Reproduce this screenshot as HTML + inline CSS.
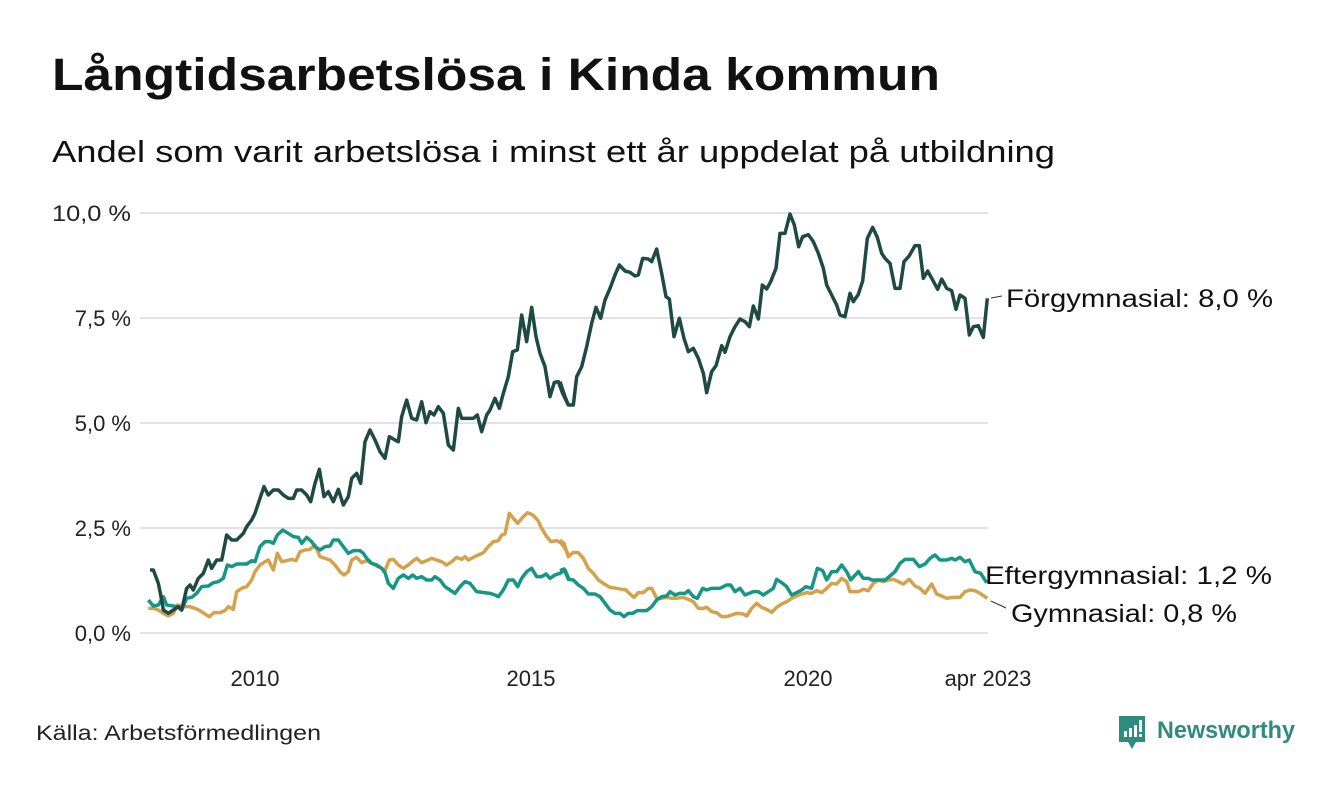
<!DOCTYPE html>
<html><head><meta charset="utf-8"><style>
body{margin:0;background:#fff;width:1340px;height:780px;overflow:hidden;font-family:"Liberation Sans",sans-serif}
</style></head><body>
<svg width="1340" height="780" viewBox="0 0 1340 780" xmlns="http://www.w3.org/2000/svg" font-family="Liberation Sans, DejaVu Sans, sans-serif">
<text x="52" y="90" font-size="45" font-weight="bold" fill="#111" textLength="888" lengthAdjust="spacingAndGlyphs">Långtidsarbetslösa i Kinda kommun</text>
<text x="52" y="162" font-size="31" fill="#111" textLength="1003" lengthAdjust="spacingAndGlyphs">Andel som varit arbetslösa i minst ett år uppdelat på utbildning</text>
<g stroke="#e2e1e6" stroke-width="2">
<line x1="140" x2="988" y1="213" y2="213"/><line x1="140" x2="988" y1="318" y2="318"/>
<line x1="140" x2="988" y1="423" y2="423"/><line x1="140" x2="988" y1="528" y2="528"/>
<line x1="140" x2="988" y1="633" y2="633"/></g>
<g font-size="22" fill="#222" text-anchor="end">
<text x="131" y="221" textLength="79" lengthAdjust="spacingAndGlyphs">10,0 %</text><text x="131" y="326">7,5 %</text><text x="131" y="431">5,0 %</text><text x="131" y="536">2,5 %</text><text x="131" y="641">0,0 %</text></g>
<g font-size="22" fill="#222" text-anchor="middle">
<text x="255" y="686">2010</text><text x="531" y="686">2015</text><text x="808" y="686">2020</text><text x="988" y="686">apr 2023</text></g>
<g fill="none" stroke-width="3.5" stroke-linejoin="round">
<g transform="translate(140,200) scale(0.33333)">
<polyline vector-effect="non-scaling-stroke" stroke="#d4a24c" points="25,1225 40,1225 55,1230 70,1240 85,1248 100,1240 112,1215 125,1220 150,1220 165,1225 180,1232 195,1242 208,1250 222,1238 240,1238 255,1232 265,1220 280,1228 290,1175 305,1165 320,1160 335,1140 345,1115 360,1095 375,1085 385,1080 400,1110 412,1060 425,1085 440,1082 455,1078 468,1082 480,1055 495,1050 510,1048 525,1035 540,1070 555,1075 570,1080 585,1095 600,1115 612,1125 625,1115 635,1080 650,1072 665,1088 680,1082 695,1090 710,1098 725,1105 735,1112 748,1080 760,1078 775,1095 790,1105 805,1095 820,1082 830,1075 845,1088 860,1082 875,1075 890,1080 905,1085 920,1095 935,1085 950,1072 965,1078 975,1070 985,1080 1000,1072 1015,1065 1030,1058 1045,1040 1060,1025 1075,1022 1085,1005 1095,1002 1108,940 1120,955 1133,970 1150,950 1163,938 1178,945 1193,960 1205,985 1220,1010 1233,1025 1250,1022 1262,1028 1275,1045 1288,1070"/>
<polyline vector-effect="non-scaling-stroke" stroke="#159686" points="25,1200 40,1218 55,1215 70,1190 80,1215 100,1218 115,1222 125,1230 140,1195 155,1192 170,1180 185,1160 205,1158 220,1148 235,1145 250,1135 262,1095 275,1100 290,1092 320,1092 335,1082 345,1085 360,1040 375,1025 390,1025 400,1030 412,1005 428,990 445,1000 460,1010 475,1012 485,1030 500,1012 515,1025 525,1040 540,1050 555,1040 570,1038 580,1020 595,1020 610,1040 625,1060 640,1052 660,1052 670,1060 680,1075 695,1090 710,1095 725,1105 735,1118 745,1150 760,1165 775,1135 790,1125 805,1135 818,1125 830,1135 845,1130 860,1140 875,1140 885,1130 900,1140 915,1160 930,1170 945,1180 960,1160 975,1145 990,1150 1010,1175 1050,1180 1065,1185 1075,1190 1090,1170 1105,1140 1120,1140 1133,1160 1145,1135 1160,1115 1175,1105 1190,1130 1205,1130 1218,1122 1230,1135 1245,1125 1260,1120 1275,1110 1288,1140"/>
<polyline vector-effect="non-scaling-stroke" stroke="#1f4a42" points="30,1110 40,1110 55,1150 65,1200 70,1230 85,1240 100,1230 115,1220 125,1230 140,1165 150,1155 160,1170 175,1135 190,1120 205,1080 215,1105 230,1080 245,1080 260,1005 275,1020 290,1020 310,1000 320,980 335,960 345,940 360,895 372,860 385,885 400,870 415,870 430,885 445,895 460,895 470,870 485,870 500,885 512,905 525,850 538,808 552,890 565,875 580,905 595,868 610,915 625,890 635,835 650,820 662,850 675,725 690,690 705,720 720,755 735,775 748,710 765,720 775,725 785,650 800,600 815,655 830,660 845,605 858,668 870,635 882,645 895,620 910,640 925,735 940,750 955,625 965,655 1000,655 1012,645 1025,695 1040,645 1050,630 1065,595 1078,625 1090,580 1105,530 1118,455 1132,450 1145,345 1160,425 1175,322 1188,410 1200,460 1215,500 1230,590 1243,547 1255,545 1268,580 1285,615"/>
</g>
<g transform="translate(560,200) scale(0.33333)">
<polyline vector-effect="non-scaling-stroke" stroke="#d4a24c" points="0,1020 12,1030 25,1070 40,1057 55,1058 70,1075 85,1105 100,1120 115,1140 130,1150 150,1162 170,1165 185,1168 198,1170 210,1182 222,1192 235,1178 250,1178 265,1165 275,1165 290,1195 305,1195 320,1192 335,1195 350,1195 370,1192 385,1198 400,1205 415,1225 430,1225 440,1222 455,1235 470,1238 485,1250 500,1250 515,1245 530,1240 550,1242 560,1248 575,1225 590,1210 605,1222 620,1228 635,1237 650,1222 665,1212 680,1205 695,1195 710,1188 725,1182 740,1178 755,1180 770,1172 785,1178 800,1165 815,1150 830,1152 845,1135 860,1145 870,1175 895,1175 910,1168 925,1172 940,1150 955,1140 970,1145 985,1140 1000,1138 1015,1145 1030,1152 1048,1138 1065,1158 1080,1165 1095,1180 1115,1152 1130,1182 1145,1188 1160,1195 1180,1192 1200,1192 1215,1175 1230,1170 1245,1172 1260,1180 1282,1195"/>
<polyline vector-effect="non-scaling-stroke" stroke="#159686" points="0,1112 12,1107 25,1138 40,1140 55,1155 70,1165 85,1182 105,1182 120,1190 135,1210 150,1230 165,1240 180,1240 192,1250 205,1240 218,1240 232,1232 260,1232 275,1220 290,1200 305,1190 320,1188 330,1175 345,1185 360,1180 375,1180 385,1172 400,1190 412,1195 428,1165 440,1170 455,1165 480,1165 500,1155 512,1155 525,1175 540,1165 555,1185 580,1175 595,1175 610,1185 625,1175 640,1165 650,1138 665,1148 680,1160 695,1185 710,1178 725,1170 738,1160 755,1165 772,1105 788,1112 800,1140 815,1115 830,1115 845,1095 860,1115 872,1140 895,1115 910,1135 925,1135 935,1140 960,1140 975,1140 990,1128 1005,1115 1020,1090 1035,1078 1060,1078 1078,1100 1095,1092 1110,1075 1125,1065 1140,1080 1160,1080 1175,1075 1185,1080 1200,1072 1215,1085 1228,1080 1245,1115 1262,1120 1280,1148"/>
<polyline vector-effect="non-scaling-stroke" stroke="#1f4a42" points="0,545 15,590 25,615 40,615 50,530 65,500 80,440 95,370 108,322 122,355 135,300 150,265 165,225 178,195 195,213 210,217 225,228 235,225 248,175 265,177 275,185 290,147 305,220 318,290 328,297 342,410 358,355 372,415 385,455 400,445 415,475 430,520 440,578 455,515 468,497 485,437 495,457 510,410 525,380 540,357 555,365 568,380 580,318 595,357 607,255 620,267 632,245 648,205 660,100 675,100 690,42 703,75 716,140 728,110 745,104 760,125 775,160 790,205 800,255 815,285 830,315 840,345 855,350 870,280 880,305 895,283 908,243 922,115 938,82 952,112 965,160 975,175 990,190 1005,265 1020,265 1032,185 1048,167 1065,137 1078,137 1090,235 1103,213 1118,240 1133,268 1145,237 1160,265 1175,272 1188,328 1200,285 1215,295 1228,405 1240,380 1255,377 1270,412 1282,295"/>
</g>
</g>
<g stroke="#333" stroke-width="1"><line x1="991" y1="298" x2="1002" y2="296"/><line x1="991" y1="601" x2="1006" y2="608"/></g>
<g font-size="25" fill="#111">
<text x="1006" y="307" textLength="267" lengthAdjust="spacingAndGlyphs">Förgymnasial: 8,0 %</text>
<text x="985" y="584" textLength="287" lengthAdjust="spacingAndGlyphs">Eftergymnasial: 1,2 %</text>
<text x="1011" y="622" textLength="226" lengthAdjust="spacingAndGlyphs">Gymnasial: 0,8 %</text></g>
<text x="36" y="740" font-size="21" fill="#222" textLength="285" lengthAdjust="spacingAndGlyphs">Källa: Arbetsförmedlingen</text>
<g transform="translate(1119,716)">
<path d="M0,0 H26 V26 H17 L13,33 L9,26 H0 Z" fill="#2e8b7f"/>
<rect x="5" y="15" width="3" height="6" fill="#fff"/><rect x="10" y="12" width="3" height="9" fill="#fff"/><rect x="15" y="9" width="3" height="12" fill="#fff"/><rect x="20" y="4" width="3" height="12" fill="#fff"/><rect x="20" y="18" width="3" height="3" fill="#fff"/>
</g>
<text x="1157" y="738" font-size="24" font-weight="bold" fill="#2e8b7f" textLength="138" lengthAdjust="spacingAndGlyphs">Newsworthy</text>
</svg>
</body></html>
